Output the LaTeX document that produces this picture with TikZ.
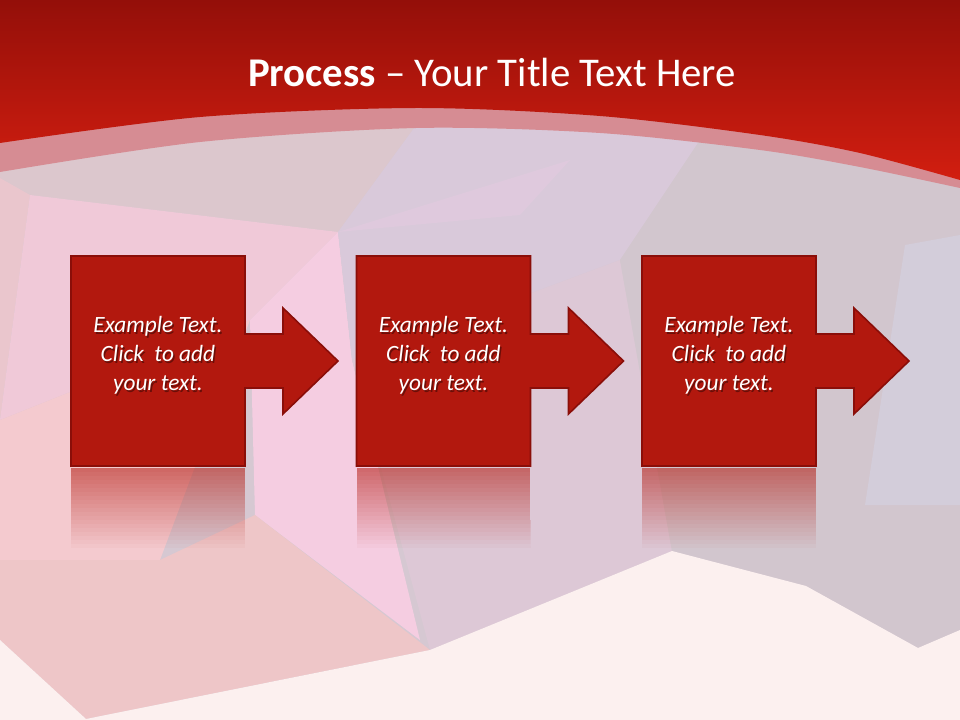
\documentclass[tikz,border=0pt]{standalone}
\usepackage{fontspec}
\setmainfont{Carlito}
\usetikzlibrary{positioning}

\definecolor{hdrtop}{HTML}{940F09}
\definecolor{hdrbot}{HTML}{D21E10}
\definecolor{bandpink}{HTML}{D68C93}
\definecolor{bgbase}{HTML}{D6C8D2}
\definecolor{bggray}{HTML}{DCC7CD}
\definecolor{bgfarleft}{HTML}{EAC6CD}
\definecolor{bgpink}{HTML}{F0C9D8}
\definecolor{bgsalmon}{HTML}{F4CACF}
\definecolor{bgbright}{HTML}{F5CDE1}
\definecolor{bgrose}{HTML}{EEC6C8}
\definecolor{bglilac}{HTML}{D9C9DA}
\definecolor{bgstreak}{HTML}{DFC9DD}
\definecolor{bgmid}{HTML}{DDC8D6}
\definecolor{bgright}{HTML}{D2C6CE}
\definecolor{bgblue}{HTML}{D3CDDA}
\definecolor{bglight}{HTML}{FCF0EF}
\definecolor{boxred}{HTML}{B2180E}
\definecolor{boxedge}{HTML}{8A0E09}

\newcommand\steppath[1]{#1 -- ++(174,0) -- ++(0,78) -- ++(38,0) -- ++(0,-26) -- ++(55,53) -- ++(-55,53) -- ++(0,-26) -- ++(-38,0) -- ++(0,78) -- ++(-174,0) -- cycle}

\tikzset{
  stepshape/.style={fill=boxred, draw=boxedge, line width=1.2pt, line join=miter},
  steptext/.style={text=white, align=center, font=\itshape\fontsize{17.5}{21.75}\selectfont},
  stepshadow/.style={steptext, text=black, text opacity=0.4},
  titletext/.style={text=white, anchor=base, font=\fontsize{30.6}{36}\selectfont}
}

\begin{document}
\begin{tikzpicture}[x=0.75pt,y=-0.75pt]
        \useasboundingbox (0,0) rectangle (960,720);
        % low poly background
        \fill[bgbase] (0,0) rectangle (960,720);
        \fill[bggray] (0,140) -- (420,120) -- (338,232) -- (30,195) -- (0,178) -- cycle;
        \fill[bgfarleft] (0,178) -- (30,195) -- (0,420) -- cycle;
        \fill[bgpink] (30,195) -- (338,232) -- (250,320) -- (0,420) -- cycle;
        \fill[bgsalmon] (0,420) -- (250,320) -- (160,560) -- (0,560) -- cycle;
        \fill[bgbright] (338,232) -- (352,360) -- (420,640) -- (255,515) -- (250,320) -- cycle;
        \fill[bgrose] (0,560) -- (160,560) -- (255,515) -- (430,650) -- (86,719) -- (0,640) -- cycle;
        \fill[bglilac] (338,232) -- (420,120) -- (700,140) -- (620,260) -- (352,360) -- cycle;
        \fill[bgstreak] (338,232) -- (570,160) -- (520,215) -- cycle;
        \fill[bgmid] (352,360) -- (620,260) -- (672,551) -- (430,650) -- cycle;
        \fill[bgright] (700,140) -- (960,180) -- (960,630) -- (918,648) -- (806,586) -- (672,551) -- (620,260) -- cycle;
        \fill[bgblue] (905,245) -- (960,235) -- (960,505) -- (865,505) -- cycle;
        \fill[bglight] (0,640) -- (86,719) -- (430,650) -- (672,551) -- (806,586) -- (918,648) -- (960,630) -- (960,720) -- (0,720) -- cycle;
        % header
        \fill[bandpink] (0,0) -- (960,0) -- plot[smooth] coordinates {(960,188) (860,167) (760,150) (600,133) (416,128) (200,142) (0,172)} -- cycle;
        \shade[top color=hdrtop, bottom color=hdrbot] (0,0) -- (960,0) -- plot[smooth] coordinates {(960,180) (860,153) (760,135) (600,116) (416,108) (200,117) (0,143)} -- cycle;
        \node[titletext] (title) at (492,87) {\textbf{Process} – Your Title Text Here};
        % steps with reflections
        \foreach \i/\x in {1/71, 2/356.5, 3/642} {
          \begin{scope}
            \clip \steppath{(\x,468)};
            \foreach \k [evaluate=\k as \op using 0.55-0.0275*\k] in {0,...,19}
              \fill[boxred, fill opacity=\op] (\x,468+4*\k) rectangle ++(174,4);
          \end{scope}
          \draw[stepshape] \steppath{(\x,256)};
          \node[stepshadow] at (\x+88.5,357) {Example Text.\\Click~ to add\\your text.};
          \node[steptext] (txt\i) at (\x+87,355) {Example Text.\\Click~ to add\\your text.};
        }
\end{tikzpicture}
\end{document}
